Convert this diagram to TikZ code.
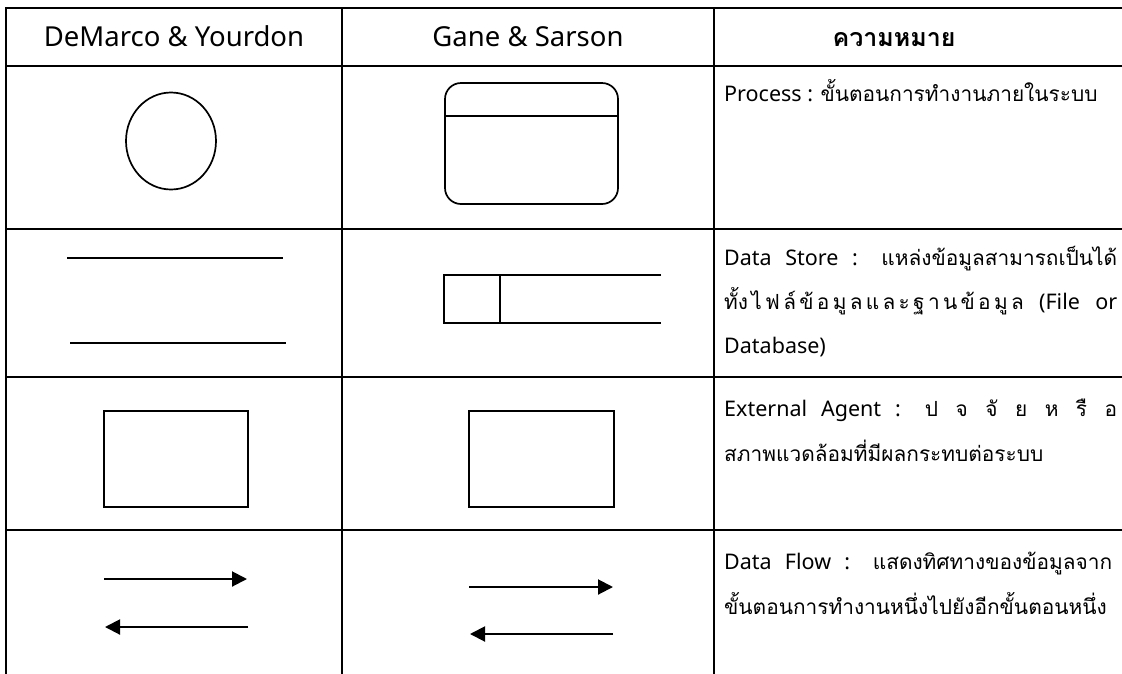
\documentclass[tikz,border=0pt]{standalone}
\usepackage{fontspec}
\setmainfont{Noto Sans}
\newfontfamily\thaifont[Script=Thai,Scale=0.97]{Loma}
\newfontfamily\thaihead[Script=Thai]{Loma}
\usetikzlibrary{arrows.meta,shapes.geometric}
% small gap between Thai letter clusters on spread lines
\newcommand{\lsp}{\kern3.3pt}

\begin{document}
\begin{tikzpicture}[x=1pt,y=-1pt,
  grid/.style={line width=2.8pt,line cap=rect},
  sym/.style={line width=1.7pt},
  flow/.style={line width=2pt,-{Triangle[length=15pt,width=15pt]}},
  head/.style={font=\fontsize{27.5}{32}\selectfont,anchor=base,inner sep=0pt},
  body/.style={font=\fontsize{21.5}{26}\selectfont,anchor=base west,inner sep=0pt}
]
\useasboundingbox (0,0) rectangle (1122,673);

% table rules
\draw[grid] (6,8) -- (1122,8);
\draw[grid] (6,66) -- (1122,66);
\draw[grid] (6,229) -- (1122,229);
\draw[grid] (6,377) -- (1122,377);
\draw[grid] (6,530) -- (1122,530);
\draw[grid] (6,8) -- (6,673);
\draw[grid] (342,8) -- (342,673);
\draw[grid] (714,8) -- (714,673);

% header row
\node[head] (h1) at (174,46) {DeMarco \& Yourdon};
\node[head] (h2) at (528,46) {Gane \& Sarson};
\node[head,font=\fontsize{25}{28}\selectfont\thaihead\bfseries] (h3) at (894,46) {ความหมาย};

% process
\node[draw,sym,ellipse,minimum width=90pt,minimum height=97pt] (dmproc) at (171,141) {};
\node[draw,sym,rounded corners=16pt,minimum width=173pt,minimum height=121pt] (gsproc) at (531.5,143.5) {};
\draw[sym] (gsproc.west |- 0,116) -- (gsproc.east |- 0,116);

% data store
\coordinate (dsa1) at (67,258);  \coordinate (dsa2) at (283,258);
\coordinate (dsb1) at (70,343);  \coordinate (dsb2) at (286,343);
\draw[sym] (dsa1) -- (dsa2);
\draw[sym] (dsb1) -- (dsb2);
\coordinate (gtr) at (661,275); \coordinate (gtl) at (444,275);
\coordinate (gbl) at (444,323); \coordinate (gbr) at (661,323);
\draw[sym] (gtr) -- (gtl) -- (gbl) -- (gbr);
\draw[sym] (500,275) -- (500,323);

% external agent
\node[draw,sym,minimum width=144pt,minimum height=96pt] (dmext) at (176,459) {};
\node[draw,sym,minimum width=145pt,minimum height=96pt] (gsext) at (541.5,459) {};

% data flow
\coordinate (f1a) at (104,579); \coordinate (f1b) at (247,579);
\coordinate (f2a) at (248,627); \coordinate (f2b) at (105,627);
\coordinate (f3a) at (469,587); \coordinate (f3b) at (613,587);
\coordinate (f4a) at (613,634); \coordinate (f4b) at (470,634);
\draw[flow] (f1a) -- (f1b);
\draw[flow] (f2a) -- (f2b);
\draw[flow] (f3a) -- (f3b);
\draw[flow] (f4a) -- (f4b);

% meanings
\node[body] (t1) at (724,101) {Process : {\thaifont ขั้นตอนการทำงานภายในระบบ}};
\node[body] (t2) at (724,265) {\makebox[393pt][s]{Data Store : {\thaifont แหล่งข้อมูลสามารถเป็นได้}}};
\node[body] (t3) at (724,309) {\makebox[393pt][s]{{\thaifont ทั้ง\lsp ไ\lsp ฟ\lsp ล์\lsp ข้\lsp อ\lsp มู\lsp ล\lsp แ\lsp ล\lsp ะ\lsp ฐ\lsp า\lsp น\lsp ข้\lsp อ\lsp มู\lsp ล} (File or}};
\node[body] (t4) at (724,353) {Database)};
\node[body] (t5) at (724,416) {\makebox[393pt][s]{External Agent : {\thaifont ป จ จั ย ห รื อ}}};
\node[body] (t6) at (724,461) {{\thaifont สภาพแวดล้อมที่มีผลกระทบต่อระบบ}};
\node[body] (t7) at (724,569) {\makebox[388pt][s]{Data Flow : {\thaifont แสดงทิศทางของข้อมูลจาก}}};
\node[body] (t8) at (724,614) {{\thaifont ขั้นตอนการทำงานหนึ่งไปยังอีกขั้นตอนหนึ่ง}};
\end{tikzpicture}
\end{document}
